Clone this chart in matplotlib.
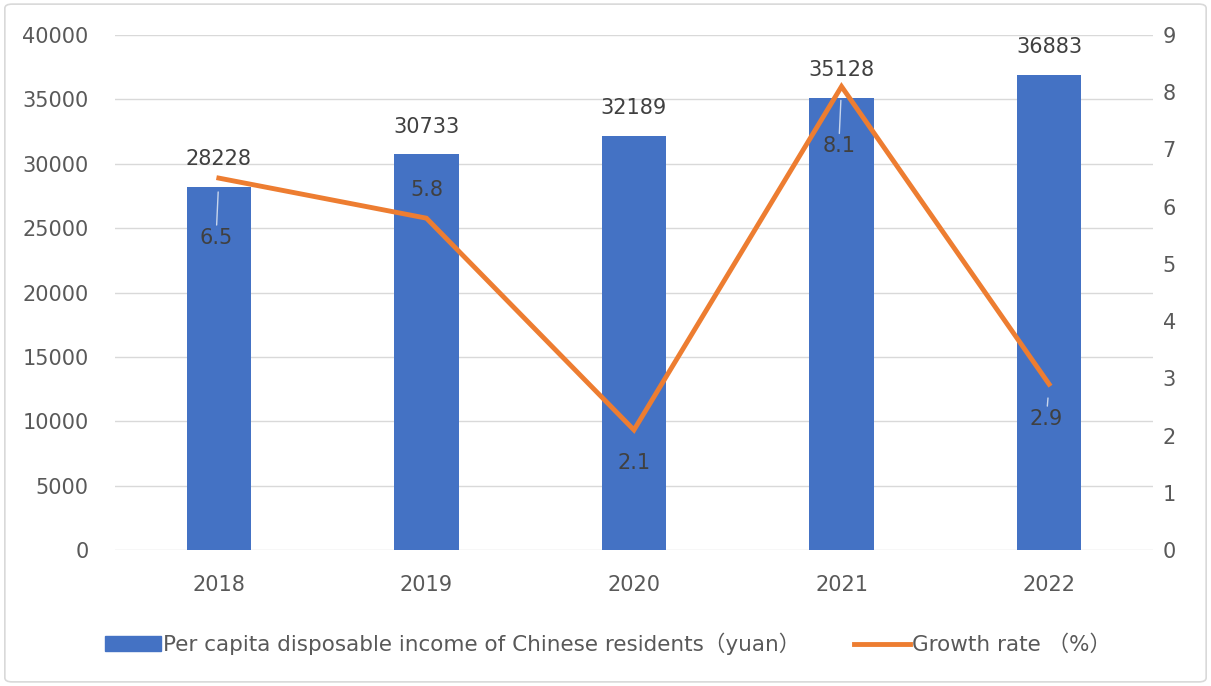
import matplotlib.pyplot as plt
from matplotlib.patches import FancyBboxPatch
from matplotlib.lines import Line2D
from matplotlib.patches import Patch

plt.rcParams['font.family'] = ['DejaVu Sans', 'Noto Sans CJK SC']

years = ['2018', '2019', '2020', '2021', '2022']
income = [28228, 30733, 32189, 35128, 36883]
growth = [6.5, 5.8, 2.1, 8.1, 2.9]

# label offsets (points) for the growth values
g_offset = [-43, 20, -24, -43, -25]
g_leader = [True, False, False, True, True]

fs = 15
c_bar = '#4472C4'
c_line = '#ED7D31'
c_txt = '#595959'
c_grid = '#D9D9D9'

fig = plt.figure(figsize=(12.11, 6.86), dpi=100)
ax = fig.add_axes([0.095, 0.198, 0.857, 0.751])
ax2 = ax.twinx()

x = range(len(years))
ax.bar(x, income, width=0.31, color=c_bar, zorder=2)
ax.set_ylim(0, 40000)
ax.set_yticks(range(0, 40001, 5000))
ax.set_xlim(-0.5, len(years) - 0.5)
ax.set_xticks(list(x))
ax.set_xticklabels(years)
ax.yaxis.grid(True, color=c_grid, lw=1, zorder=0)
ax.set_axisbelow(True)

for i, v in enumerate(income):
    ax.annotate(str(v), (i, v), xytext=(0, 20), textcoords='offset points',
                ha='center', va='center', fontsize=fs, color='#404040')

ax2.plot(x, growth, color=c_line, lw=3.5, solid_joinstyle='miter', zorder=3)
ax2.set_ylim(0, 9)
ax2.set_yticks(range(0, 10))
for i, v in enumerate(growth):
    ap = dict(arrowstyle='-', color='#C9D6EC', lw=1, shrinkA=0, shrinkB=10) if g_leader[i] else None
    ax2.annotate(str(v), (i, v), xytext=(-2 if g_leader[i] else 0, g_offset[i]),
                 textcoords='offset points', ha='center', va='center',
                 fontsize=fs, color='#404040', arrowprops=ap)

for a in (ax, ax2):
    for s in a.spines.values():
        s.set_visible(False)
    a.tick_params(length=0, labelsize=fs, colors=c_txt)
ax.tick_params(axis='y', pad=19)
ax.tick_params(axis='x', pad=18)
ax2.tick_params(axis='y', pad=7)

handles = [Patch(color=c_bar), Line2D([], [], color=c_line, lw=3.5)]
labels = ['Per capita disposable income of Chinese residents（yuan）', 'Growth rate （%）']
fig.legend(handles, labels, loc='center', bbox_to_anchor=(0.502, 0.061), ncol=2,
           frameon=False, fontsize=15.5, labelcolor=c_txt, handlelength=2.6,
           handletextpad=0.1, columnspacing=2.5)

fig.patches.append(FancyBboxPatch((0.004, 0.006), 0.992, 0.988,
                                  boxstyle='round,pad=0,rounding_size=0.006',
                                  transform=fig.transFigure, fill=False,
                                  edgecolor=c_grid, lw=1.2))

fig.savefig('out.png', dpi=100)
